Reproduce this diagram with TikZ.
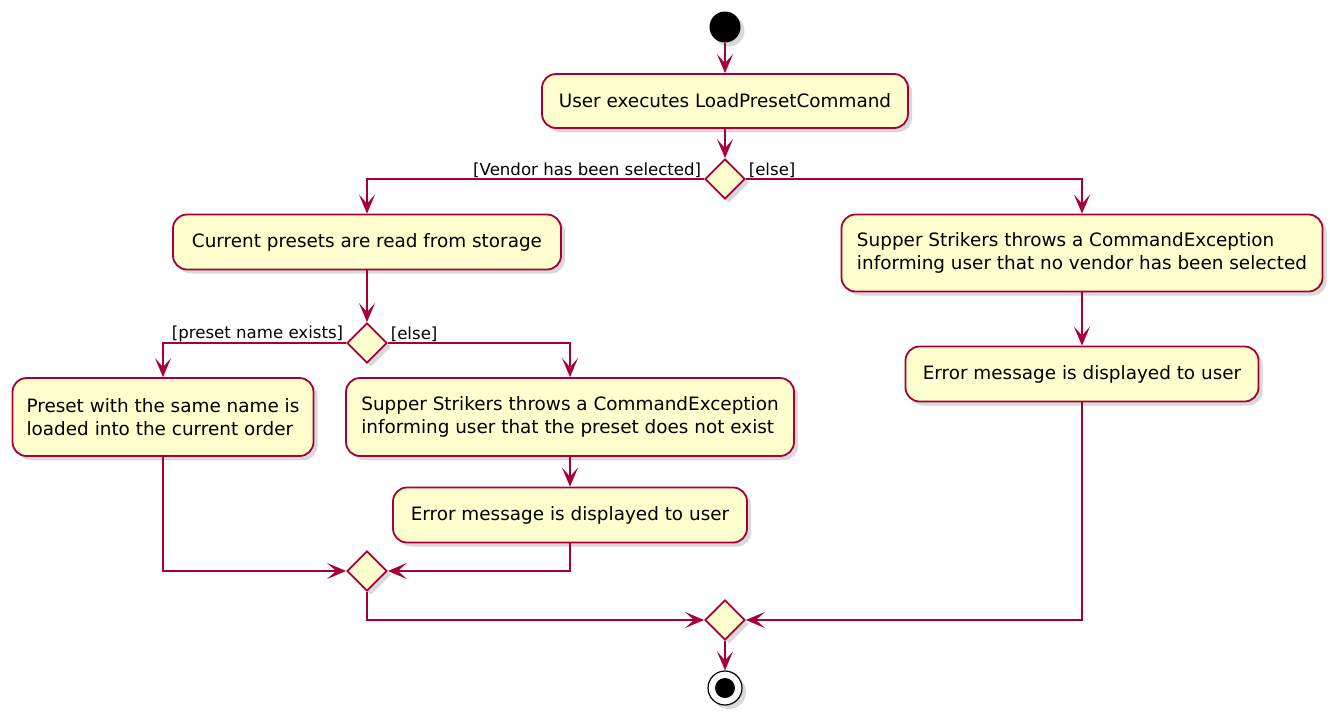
\documentclass[tikz,border=0pt]{standalone}
\usepackage{fontspec}
\setmainfont{DejaVu Sans}
\usetikzlibrary{shapes.geometric,shadows,arrows.meta}
\definecolor{umlred}{HTML}{A80036}
\definecolor{umlfill}{HTML}{FEFECE}

\begin{document}
\begin{tikzpicture}[x=1pt,y=-1pt]
			\tikzstyle{action} = [rectangle, rounded corners=14pt, draw=umlred, fill=umlfill, line width=1.8pt, align=left, inner sep=0pt, font=\fontsize{18.4}{23}\selectfont, drop shadow={shadow xshift=4pt, shadow yshift=-4pt, opacity=0.3}]
			\tikzstyle{choice} = [diamond, draw=umlred, fill=umlfill, line width=1.8pt, minimum width=40pt, minimum height=40pt, inner sep=0pt, drop shadow={shadow xshift=4pt, shadow yshift=-4pt, opacity=0.3}]
			\tikzstyle{flow} = [draw=umlred, line width=1.8pt, -{Stealth[length=19pt, width=16pt, inset=9pt]}]
			\tikzstyle{guard} = [font=\fontsize{16.6}{19}\selectfont, inner sep=2pt, yshift=-2pt]
			
			\useasboundingbox (0,0) rectangle (1330,718);
			
			\node (start) [circle, fill=black, minimum size=31pt, drop shadow={shadow xshift=4pt, shadow yshift=-4pt, opacity=0.3}] at (725,27) {};
			\node (execute) [action, minimum width=366pt, minimum height=54pt] at (725,101) {User executes LoadPresetCommand};
			\node (vendor) [choice] at (725,179) {};
			
			\node (read) [action, minimum width=388pt, minimum height=55pt] at (367,242) {Current presets are read from storage};
			\node (novendor) [action, minimum width=481pt, minimum height=77pt] at (1082,253) {Supper Strikers throws a CommandException\\informing user that no vendor has been selected};
			\node (errvendor) [action, minimum width=353pt, minimum height=55pt] at (1082,374) {Error message is displayed to user};
			
			\node (exists) [choice] at (367,343) {};
			\node (load) [action, minimum width=301pt, minimum height=78pt] at (163,417) {Preset with the same name is\\loaded into the current order};
			\node (nopreset) [action, minimum width=448pt, minimum height=78pt] at (570,417) {Supper Strikers throws a CommandException\\informing user that the preset does not exist};
			\node (errpreset) [action, minimum width=354pt, minimum height=55pt] at (570,515) {Error message is displayed to user};
			
			\node (mergepreset) [choice] at (367,571) {};
			\node (mergeall) [choice] at (725,620) {};
			\node (stop) [circle, draw=black, fill=white, line width=1.2pt, minimum size=34pt, drop shadow={shadow xshift=4pt, shadow yshift=-4pt, opacity=0.3}, path picture={\fill[black] (path picture bounding box.center) circle (10pt);}] at (725,688) {};
			
			\draw[flow] (start) -- (execute);
			\draw[flow] (execute) -- (vendor);
			\draw[flow] (vendor.west) node[guard, above left] {[Vendor has been selected]} -| (read.north);
			\draw[flow] (vendor.east) node[guard, above right] {[else]} -| (novendor.north);
			\draw[flow] (novendor) -- (errvendor);
			
			\draw[flow] (read) -- (exists);
			\draw[flow] (exists.west) node[guard, above left] {[preset name exists]} -| (load.north);
			\draw[flow] (exists.east) node[guard, above right] {[else]} -| (nopreset.north);
			\draw[flow] (nopreset) -- (errpreset);
			
			\draw[flow] (load.south) |- (mergepreset.west);
			\draw[flow] (errpreset.south) |- (mergepreset.east);
			\draw[flow] (mergepreset.south) |- (mergeall.west);
			\draw[flow] (errvendor.south) |- (mergeall.east);
			\draw[flow] (mergeall) -- (stop);
			
	\end{tikzpicture}
\end{document}
